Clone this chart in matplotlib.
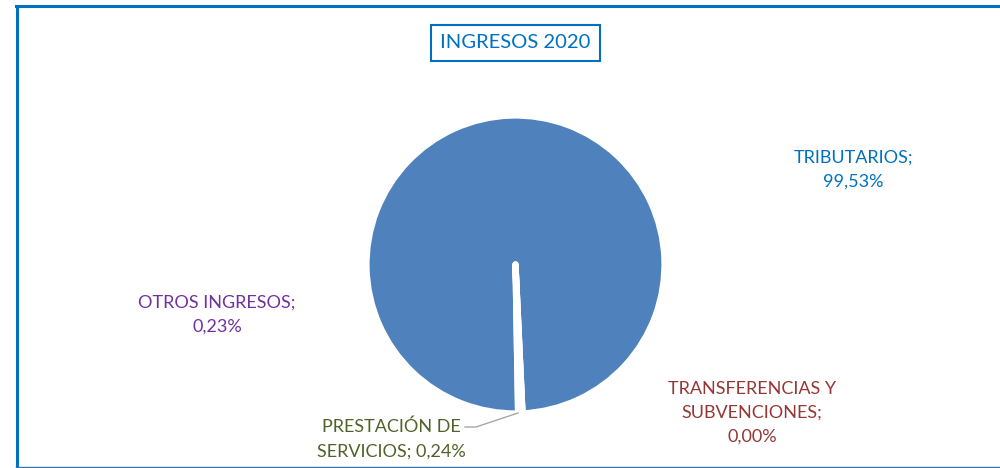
import matplotlib
matplotlib.use("Agg")
import matplotlib.pyplot as plt
from matplotlib.lines import Line2D
from matplotlib.patches import Rectangle

# data
categories = ["TRIBUTARIOS", "TRANSFERENCIAS Y SUBVENCIONES", "PRESTACIÓN DE SERVICIOS", "OTROS INGRESOS"]
shares = [99.53, 0.00, 0.24, 0.23]
label_text = [
    "TRIBUTARIOS;\n99,53%",
    "TRANSFERENCIAS Y\nSUBVENCIONES;\n0,00%",
    "PRESTACIÓN DE\nSERVICIOS; 0,24%",
    "OTROS INGRESOS;\n0,23%",
]
title = "INGRESOS 2020"

slice_color = "#4F81BD"
label_colors = ["#0070C0", "#953735", "#4F6228", "#7030A0"]
label_pos = [(853, 170), (752, 413), (391, 439), (217, 315)]  # pixel centres
frame_blue = "#0070C0"

W, H = 1000, 468
plt.rcParams["font.family"] = ["Lato", "DejaVu Sans"]
fig = plt.figure(figsize=(W / 100, H / 100), dpi=100)


def fx(px):
    return px / W


def fy(py):
    return 1 - py / H


# pie axes: centre at (515, 264), radius about 149 px
R = 149
cx, cy = 515.5, 264.5
ax = fig.add_axes([fx(cx - R), fy(cy + R), 2 * R / W, 2 * R / H])
ax.pie(
    shares,
    colors=[slice_color] * len(shares),
    startangle=-89.0,
    counterclock=False,
    radius=1,
    wedgeprops=dict(edgecolor="white", linewidth=4.5, joinstyle="round"),
)
ax.set_xlim(-1, 1)
ax.set_ylim(-1, 1)
ax.set_aspect("auto")
ax.axis("off")

# data labels
for txt, col, (px, py) in zip(label_text, label_colors, label_pos):
    fig.text(fx(px), fy(py), txt, color=col, fontsize=13, ha="center", va="center",
             linespacing=1.6)

# leader line for PRESTACIÓN DE SERVICIOS
fig.add_artist(Line2D([fx(465), fx(476), fx(518)], [fy(427), fy(427), fy(413)],
                      color="#A6A6A6", linewidth=1.0))

# title in a box
fig.text(fx(515.5), fy(43), title, color=frame_blue, fontsize=14.5, ha="center", va="center")
fig.add_artist(Rectangle((fx(431), fy(61)), fx(169), 36 / H, fill=False,
                         edgecolor=frame_blue, linewidth=1.5, transform=fig.transFigure))

# outer frame (left, top, bottom)
fig.add_artist(Line2D([fx(17), fx(17)], [fy(6), fy(470)], color=frame_blue, linewidth=2.2))
fig.add_artist(Line2D([fx(16), fx(1001)], [fy(6), fy(6)], color=frame_blue, linewidth=2.2))
fig.add_artist(Line2D([fx(16), fx(1001)], [fy(467), fy(467)], color="#2E75B6", linewidth=1.0))

fig.savefig("out.png", dpi=100)
